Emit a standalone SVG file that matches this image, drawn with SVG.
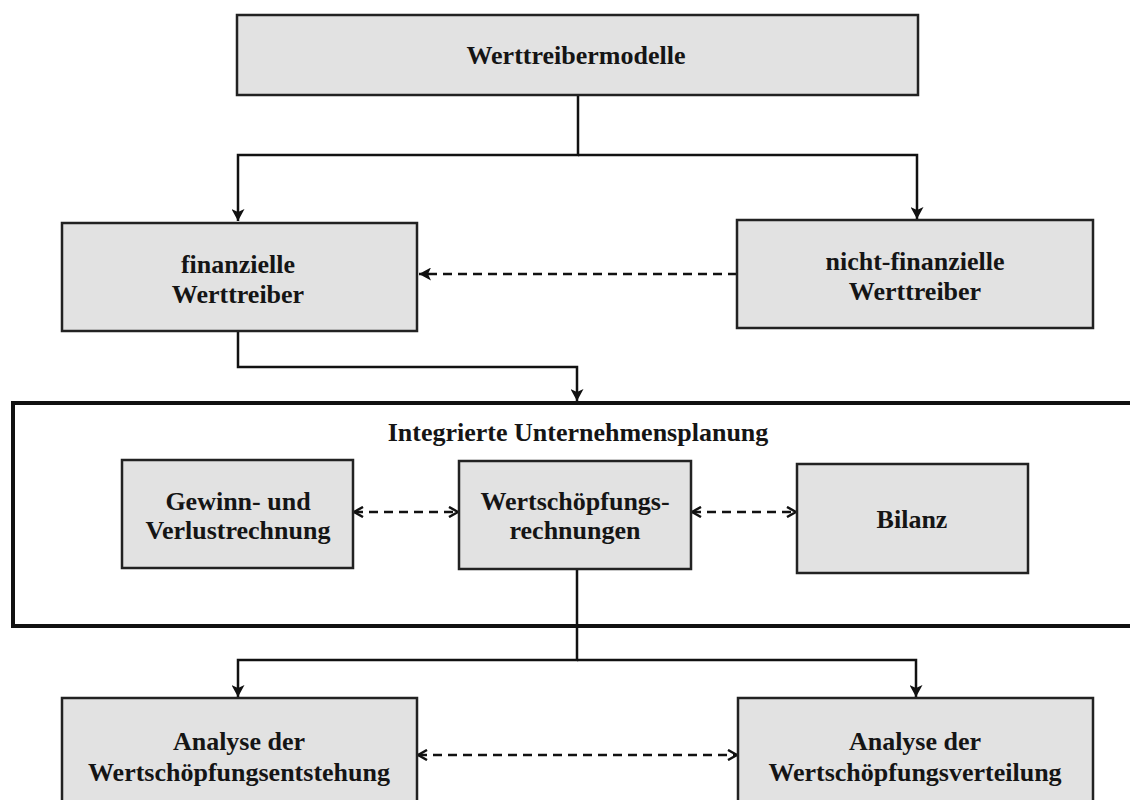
<svg xmlns="http://www.w3.org/2000/svg" width="1130" height="800" viewBox="0 0 1130 800">
  <style>
    .box { fill: #e2e2e2; stroke: #222; stroke-width: 2.5; }
    .lbl { font-family: "Liberation Serif", "Times New Roman", serif; font-weight: bold; font-size: 26px; fill: #151515; text-anchor: middle; dominant-baseline: central; }
    .line { fill: none; stroke: #111; stroke-width: 2.5; }
    .dash { fill: none; stroke: #111; stroke-width: 2.5; stroke-dasharray: 9 6; }
  </style>
  <defs>
    <marker id="arrowFill" viewBox="0 0 12 13" refX="12" refY="6.5" markerWidth="12" markerHeight="13" markerUnits="userSpaceOnUse" orient="auto">
      <path d="M0,0 L12,6.5 L0,13 L3,6.5 z" fill="#111"/>
    </marker>
    <marker id="arrowOpen" viewBox="0 0 12 12" refX="11" refY="6" markerWidth="12" markerHeight="12" markerUnits="userSpaceOnUse" orient="auto-start-reverse">
      <path d="M2,1 L11,6 L2,11" fill="none" stroke="#111" stroke-width="2.5"/>
    </marker>
  </defs>
  <rect width="1130" height="800" fill="#ffffff"/>

  <g id="container">
    <rect x="13" y="403" width="1140" height="223" fill="none" stroke="#111" stroke-width="4"/>
    <text class="lbl" x="578" y="432">Integrierte Unternehmensplanung</text>
  </g>

  <g id="connectors">
    <path class="line" d="M578,95 V155 H238 V221" marker-end="url(#arrowFill)"/>
    <path class="line" d="M578,155 H917 V219" marker-end="url(#arrowFill)"/>
    <path class="dash" d="M737,274 H419" marker-end="url(#arrowFill)"/>
    <path class="line" d="M238,331 V367 H577 V401" marker-end="url(#arrowFill)"/>
    <path class="dash" d="M354,512 H458" marker-start="url(#arrowOpen)" marker-end="url(#arrowOpen)"/>
    <path class="dash" d="M692,512 H796" marker-start="url(#arrowOpen)" marker-end="url(#arrowOpen)"/>
    <path class="line" d="M577,569 V660 H238 V697" marker-end="url(#arrowFill)"/>
    <path class="line" d="M577,660 H916 V697" marker-end="url(#arrowFill)"/>
    <path class="dash" d="M418,755 H737" marker-start="url(#arrowOpen)" marker-end="url(#arrowOpen)"/>
  </g>

  <g id="werttreibermodelle">
    <rect class="box" x="237" y="15" width="681" height="80"/>
    <text class="lbl" x="576" y="55">Werttreibermodelle</text>
  </g>

  <g id="finanzielle">
    <rect class="box" x="62" y="223" width="355" height="108"/>
    <text class="lbl" x="238" y="264">finanzielle</text>
    <text class="lbl" x="238" y="294">Werttreiber</text>
  </g>

  <g id="nicht-finanzielle">
    <rect class="box" x="737" y="220" width="356" height="108"/>
    <text class="lbl" x="915" y="261">nicht-finanzielle</text>
    <text class="lbl" x="915" y="291">Werttreiber</text>
  </g>

  <g id="guv">
    <rect class="box" x="122" y="460" width="231" height="108"/>
    <text class="lbl" x="238" y="501">Gewinn- und</text>
    <text class="lbl" x="238" y="530">Verlustrechnung</text>
  </g>

  <g id="wertschoepfungsrechnungen">
    <rect class="box" x="459" y="461" width="232" height="108"/>
    <text class="lbl" x="575" y="501">Wertschöpfungs-</text>
    <text class="lbl" x="575" y="530">rechnungen</text>
  </g>

  <g id="bilanz">
    <rect class="box" x="797" y="464" width="231" height="109"/>
    <text class="lbl" x="912" y="519">Bilanz</text>
  </g>

  <g id="entstehung">
    <rect class="box" x="62" y="698" width="355" height="120"/>
    <text class="lbl" x="239" y="741">Analyse der</text>
    <text class="lbl" x="239" y="772">Wertschöpfungsentstehung</text>
  </g>

  <g id="verteilung">
    <rect class="box" x="738" y="698" width="355" height="120"/>
    <text class="lbl" x="915" y="741">Analyse der</text>
    <text class="lbl" x="915" y="772">Wertschöpfungsverteilung</text>
  </g>
</svg>
